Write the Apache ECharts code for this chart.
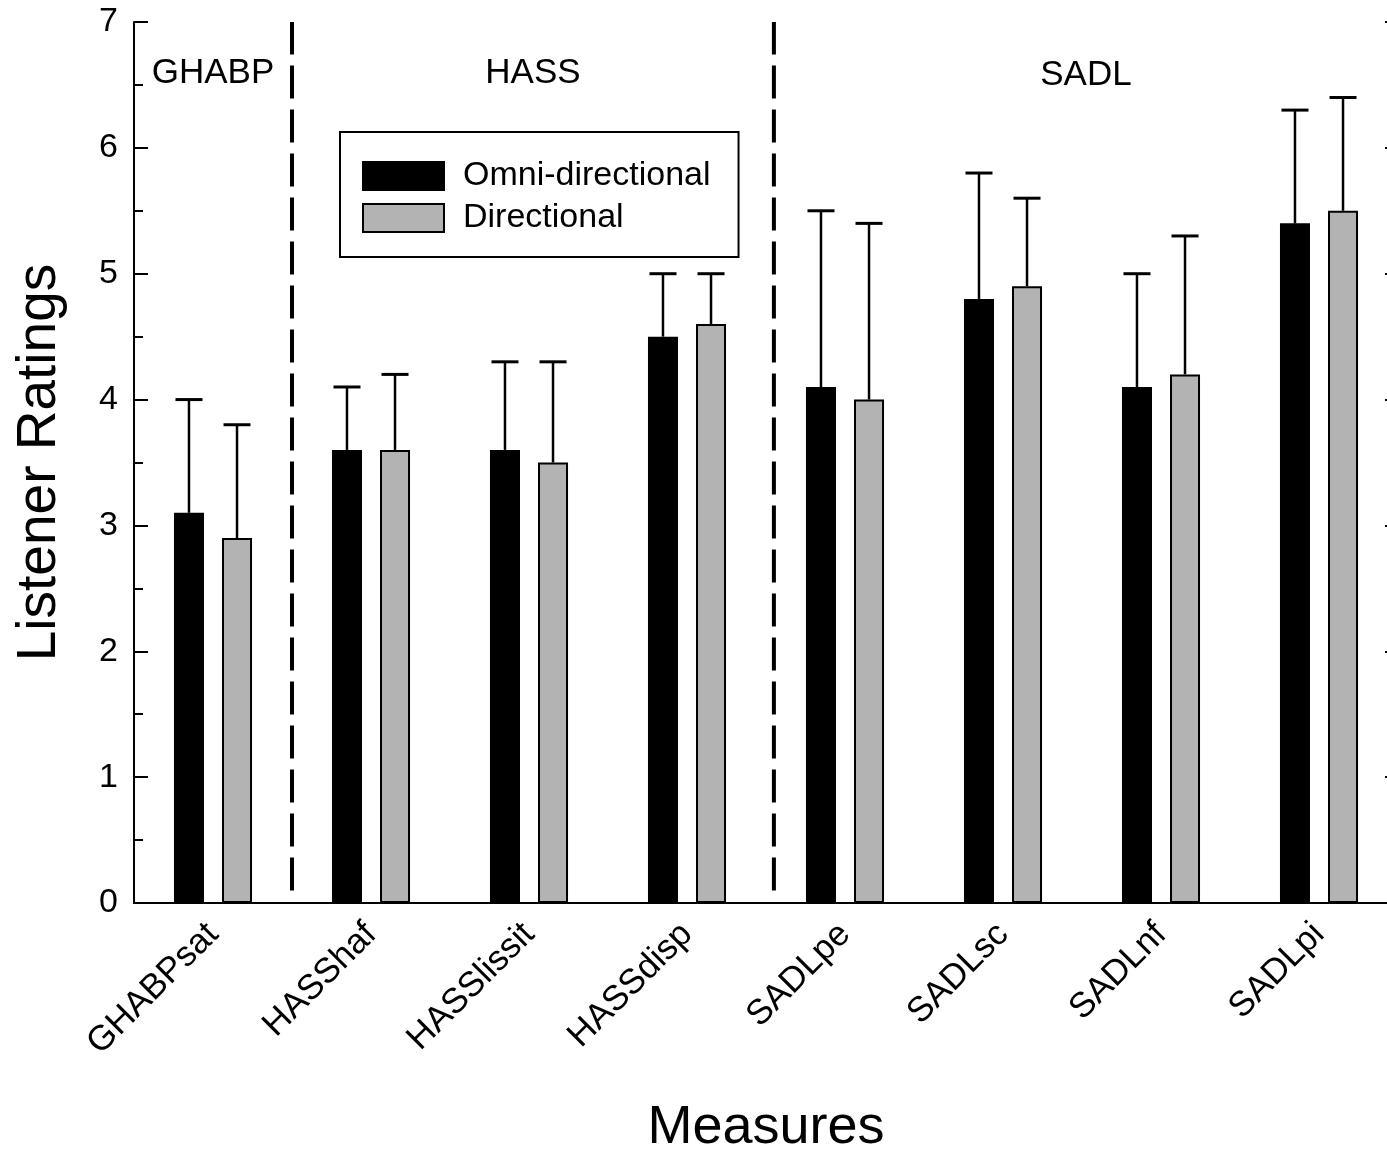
<!DOCTYPE html>
<html><head><meta charset="utf-8">
<script src="https://cdn.jsdelivr.net/npm/echarts@6/dist/echarts.min.js"></script>
<style>html,body{margin:0;padding:0;background:#fff}#c{width:1387px;height:1151px}</style>
</head><body><div id="c"></div>
<script>
// ---- data ----
const categories = ['GHABPsat','HASShaf','HASSlissit','HASSdisp','SADLpe','SADLsc','SADLnf','SADLpi'];
const omniValues = [3.1, 3.6, 3.6, 4.5, 4.1, 4.8, 4.1, 5.4];
const dirValues  = [2.9, 3.6, 3.5, 4.6, 4.0, 4.9, 4.2, 5.5];
const omniErrors = [0.9, 0.5, 0.7, 0.5, 1.4, 1.0, 0.9, 0.9];
const dirErrors  = [0.9, 0.6, 0.8, 0.4, 1.4, 0.7, 1.1, 0.9];
const seriesNames = ['Omni-directional', 'Directional'];
const groupNames = ['GHABP', 'HASS', 'SADL'];
const yTickLabels = ['0','1','2','3','4','5','6','7'];

// ---- layout constants (category units) ----
const separatorPos = [1.0, 4.05];

const FONT = 'Liberation Sans, Arial, sans-serif';
const chart = echarts.init(document.getElementById('c'), null, {renderer: 'canvas'});

const BAR_W = 0.19, GAP = 0.6;
function errRender(sign) {
  return function (params, api) {
    const i = api.value(0), v = api.value(1), e = api.value(2);
    const band = api.size([1, 0])[0];
    const off = sign * band * BAR_W * (1 + GAP) / 2;
    const p0 = api.coord([i, v]);
    const p1 = api.coord([i, v + e]);
    const x = p0[0] + off;
    return {
      type: 'group',
      children: [
        {type: 'line', shape: {x1: x, y1: p0[1], x2: x, y2: p1[1]}, style: {stroke: '#000', lineWidth: 2.5}},
        {type: 'line', shape: {x1: x - 13.5, y1: p1[1], x2: x + 13.5, y2: p1[1]}, style: {stroke: '#000', lineWidth: 3}}
      ]
    };
  };
}

const sepData = [];
separatorPos.forEach(function (s) { sepData.push([s, 0.1], [s, 7], null); });

const option = {
  animation: false,
  backgroundColor: '#fff',
  textStyle: {fontFamily: FONT},
  grid: {left: 134, width: 1264, top: 22, height: 881, containLabel: false, outerBoundsMode: 'none'},
  legend: {
    data: seriesNames,
    orient: 'vertical',
    left: 340, top: 132,
    padding: [27, 28, 22, 22],
    itemWidth: 81, itemHeight: 28, itemGap: 8,
    borderColor: '#000', borderWidth: 2,
    icon: 'rect',
    textStyle: {fontSize: 34, color: '#000', fontFamily: FONT, padding: [0, 0, 0, 14]}
  },
  xAxis: [
    {
      type: 'category', data: categories, position: 'bottom',
      axisLine: {lineStyle: {color: '#000', width: 2}},
      axisTick: {inside: true, alignWithLabel: true, length: 12, lineStyle: {color: '#000', width: 2}},
      axisLabel: {rotate: 45, interval: 0, fontSize: 35, color: '#000', margin: 26, fontFamily: FONT},
      name: 'Measures', nameLocation: 'middle', nameGap: 198,
      nameTextStyle: {fontSize: 54, color: '#000', fontFamily: FONT}
    },
    {
      type: 'category', data: categories, position: 'top',
      axisLine: {lineStyle: {color: '#000', width: 2}},
      axisTick: {inside: true, alignWithLabel: true, length: 13, lineStyle: {color: '#000', width: 2}},
      axisLabel: {show: false}
    },
    {type: 'value', min: 0, max: 8, show: false}
  ],
  yAxis: [
    {
      type: 'value', min: 0, max: 7, interval: 1,
      axisLine: {show: true, lineStyle: {color: '#000', width: 2}},
      axisTick: {show: true, inside: true, length: 14, lineStyle: {color: '#000', width: 2}},
      minorTick: {show: true, splitNumber: 2, length: 9, lineStyle: {color: '#000', width: 2}},
      splitLine: {show: false},
      axisLabel: {fontSize: 34, color: '#000', margin: 16, fontFamily: FONT,
        formatter: function (v) { return yTickLabels[v]; }},
      name: 'Listener Ratings', nameLocation: 'middle', nameRotate: 90, nameGap: 67,
      nameTextStyle: {fontSize: 55, color: '#000', fontFamily: FONT}
    },
    {
      type: 'value', min: 0, max: 7, interval: 1, position: 'right',
      axisLine: {show: true, lineStyle: {color: '#000', width: 2}},
      axisTick: {show: true, inside: true, length: 13, lineStyle: {color: '#000', width: 2}},
      splitLine: {show: false},
      axisLabel: {show: false}
    }
  ],
  series: [
    {
      name: seriesNames[0], type: 'bar', data: omniValues,
      barWidth: (BAR_W * 100) + '%', barGap: (GAP * 100) + '%',
      itemStyle: {color: '#000', borderColor: '#000', borderWidth: 2}
    },
    {
      name: seriesNames[1], type: 'bar', data: dirValues,
      barWidth: (BAR_W * 100) + '%', barGap: (GAP * 100) + '%',
      itemStyle: {color: '#b3b3b3', borderColor: '#000', borderWidth: 2}
    },
    {
      type: 'custom', name: 'errOmni', renderItem: errRender(-1), z: 5,
      data: omniValues.map(function (v, i) { return [i, v, omniErrors[i]]; })
    },
    {
      type: 'custom', name: 'errDir', renderItem: errRender(1), z: 5,
      data: dirValues.map(function (v, i) { return [i, v, dirErrors[i]]; })
    },
    {
      type: 'line', name: 'sep', xAxisIndex: 2, yAxisIndex: 0, data: sepData,
      symbol: 'none', connectNulls: false,
      lineStyle: {color: '#000', width: 4, type: [33, 11]}, z: 4
    }
  ]
};
chart.setOption(option);

// group labels centered between separators
const bounds = [0].concat(separatorPos, [8]);
const yMid = [73, 73, 75];
const graphics = groupNames.map(function (g, k) {
  const a = chart.convertToPixel({xAxisIndex: 2}, bounds[k]);
  const b = chart.convertToPixel({xAxisIndex: 2}, bounds[k + 1]);
  return {
    type: 'text', x: (a + b) / 2, y: yMid[k],
    style: {text: g, fontSize: 35, fontFamily: FONT, fill: '#000', align: 'center', verticalAlign: 'middle'}
  };
});
chart.setOption({graphic: graphics});
</script>
</body></html>
